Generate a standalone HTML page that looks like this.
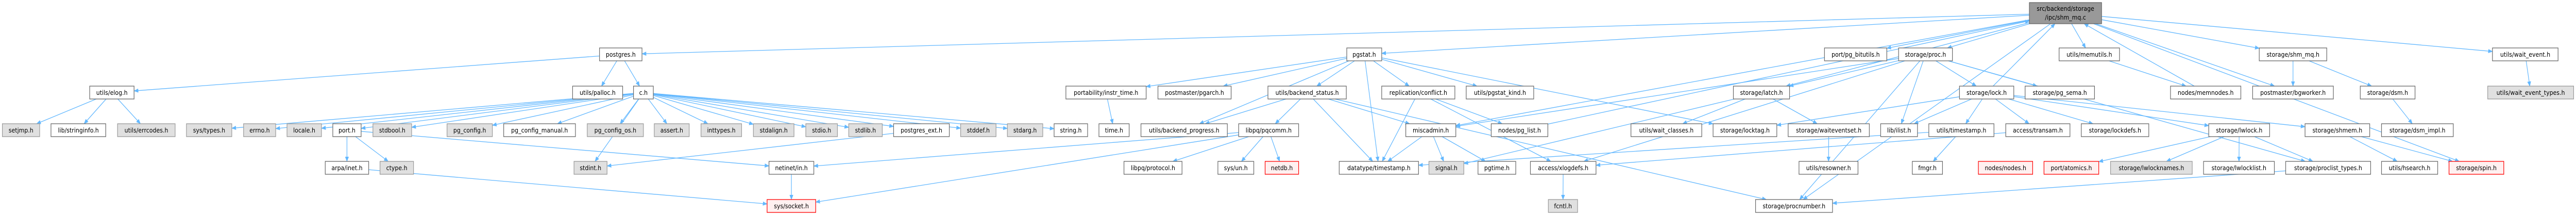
<!DOCTYPE html>
<html><head><meta charset="utf-8">
<style>
html,body{margin:0;padding:0;background:#fff;width:100%;height:100%;overflow:hidden;}
svg{display:block;width:100vw;height:100vh;}
text{font-family:"DejaVu Sans","Liberation Sans",sans-serif;font-size:12px;fill:#000;text-anchor:middle;}
.n rect{fill:#fff;stroke:#666;stroke-width:1.3;}
.g rect{fill:#e0e0e0;stroke:#999;}
.r rect{fill:#fff0f0;stroke:#f00;}
.root rect{fill:#999;stroke:#666;}
.e{fill:none;stroke:#63b8ff;stroke-width:1.3;}
</style></head><body>
<svg id="s" viewBox="0 0 5457 417" preserveAspectRatio="none" xmlns="http://www.w3.org/2000/svg">
<defs><marker id="a" markerWidth="10" markerHeight="8" refX="9" refY="4" orient="auto" markerUnits="userSpaceOnUse"><path d="M0,0 L10,4 L0,8 z" fill="#63b8ff"/></marker></defs>
<g id="edges"></g>
<g id="nodes">
<g id="root" class="n root"><rect x="4299" y="5" width="153" height="41"/><text x="4375.5" y="21">src/backend/storage</text><text x="4375.5" y="38">/ipc/shm_mq.c</text></g>

<g id="postgres" class="n"><rect x="1270" y="93" width="90" height="25"/><text x="1315" y="110">postgres.h</text></g>
<g id="pgstat" class="n"><rect x="2853" y="93" width="74" height="25"/><text x="2890" y="110">pgstat.h</text></g>
<g id="bitutils" class="n"><rect x="3865" y="93" width="132" height="25"/><text x="3931" y="110">port/pg_bitutils.h</text></g>
<g id="proc" class="n"><rect x="4022" y="93" width="114" height="25"/><text x="4079" y="110">storage/proc.h</text></g>
<g id="memutils" class="n"><rect x="4362" y="93" width="128" height="25"/><text x="4426" y="110">utils/memutils.h</text></g>
<g id="shmmqh" class="n"><rect x="4786" y="93" width="143" height="25"/><text x="4857.5" y="110">storage/shm_mq.h</text></g>
<g id="waitevent" class="n"><rect x="5280" y="93" width="139" height="25"/><text x="5349.5" y="110">utils/wait_event.h</text></g>

<g id="elog" class="n"><rect x="190" y="167" width="94" height="25"/><text x="237" y="184">utils/elog.h</text></g>
<g id="palloc" class="n"><rect x="1213" y="167" width="106" height="25"/><text x="1266" y="184">utils/palloc.h</text></g>
<g id="ch" class="n"><rect x="1342" y="167" width="42" height="25"/><text x="1363" y="184">c.h</text></g>
<g id="instr" class="n"><rect x="2258" y="167" width="170" height="25"/><text x="2343" y="184">portability/instr_time.h</text></g>
<g id="pgarch" class="n"><rect x="2453" y="167" width="155" height="25"/><text x="2530.5" y="184">postmaster/pgarch.h</text></g>
<g id="bstatus" class="n"><rect x="2686" y="167" width="166" height="25"/><text x="2769" y="184">utils/backend_status.h</text></g>
<g id="conflict" class="n"><rect x="2927" y="167" width="155" height="25"/><text x="3004.5" y="184">replication/conflict.h</text></g>
<g id="pgstatkind" class="n"><rect x="3106" y="167" width="143" height="25"/><text x="3177.5" y="184">utils/pgstat_kind.h</text></g>
<g id="latch" class="n"><rect x="3672" y="167" width="119" height="25"/><text x="3731.5" y="184">storage/latch.h</text></g>
<g id="lock" class="n"><rect x="4151" y="167" width="115" height="25"/><text x="4208.5" y="184">storage/lock.h</text></g>
<g id="pgsema" class="n"><rect x="4290" y="167" width="147" height="25"/><text x="4363.5" y="184">storage/pg_sema.h</text></g>
<g id="memnodes" class="n"><rect x="4598" y="167" width="149" height="25"/><text x="4672.5" y="184">nodes/memnodes.h</text></g>
<g id="bgworker" class="n"><rect x="4772" y="167" width="171" height="25"/><text x="4857.5" y="184">postmaster/bgworker.h</text></g>
<g id="dsm" class="n"><rect x="5000" y="167" width="116" height="25"/><text x="5058" y="184">storage/dsm.h</text></g>
<g id="wetypes" class="n g"><rect x="5270" y="167" width="182" height="25"/><text x="5361" y="184">utils/wait_event_types.h</text></g>

<g id="setjmp" class="n g"><rect x="5" y="240" width="79" height="25"/><text x="44.5" y="257">setjmp.h</text></g>
<g id="stringinfo" class="n"><rect x="108" y="240" width="116" height="25"/><text x="166" y="257">lib/stringinfo.h</text></g>
<g id="errcodes" class="n g"><rect x="249" y="240" width="122" height="25"/><text x="310" y="257">utils/errcodes.h</text></g>
<g id="systypes" class="n g"><rect x="395" y="240" width="96" height="25"/><text x="443" y="257">sys/types.h</text></g>
<g id="errno" class="n g"><rect x="516" y="240" width="68" height="25"/><text x="550" y="257">errno.h</text></g>
<g id="locale" class="n g"><rect x="608" y="240" width="73" height="25"/><text x="644.5" y="257">locale.h</text></g>
<g id="port" class="n"><rect x="705" y="240" width="60" height="25"/><text x="735" y="257">port.h</text></g>
<g id="stdbool" class="n g"><rect x="790" y="240" width="82" height="25"/><text x="831" y="257">stdbool.h</text></g>
<g id="pgconfig" class="n g"><rect x="947" y="240" width="96" height="25"/><text x="995" y="257">pg_config.h</text></g>
<g id="pgcm" class="n"><rect x="1067" y="240" width="152" height="25"/><text x="1143" y="257">pg_config_manual.h</text></g>
<g id="pgcos" class="n g"><rect x="1244" y="240" width="119" height="25"/><text x="1303.5" y="257">pg_config_os.h</text></g>
<g id="assert" class="n g"><rect x="1386" y="240" width="74" height="25"/><text x="1423" y="257">assert.h</text></g>
<g id="inttypes" class="n g"><rect x="1485" y="240" width="86" height="25"/><text x="1528" y="257">inttypes.h</text></g>
<g id="stdalign" class="n g"><rect x="1596" y="240" width="86" height="25"/><text x="1639" y="257">stdalign.h</text></g>
<g id="stdio" class="n g"><rect x="1707" y="240" width="67" height="25"/><text x="1740.5" y="257">stdio.h</text></g>
<g id="stdlib" class="n g"><rect x="1798" y="240" width="71" height="25"/><text x="1833.5" y="257">stdlib.h</text></g>
<g id="pgext" class="n"><rect x="1893" y="240" width="118" height="25"/><text x="1952" y="257">postgres_ext.h</text></g>
<g id="stddef" class="n g"><rect x="2035" y="240" width="75" height="25"/><text x="2072.5" y="257">stddef.h</text></g>
<g id="stdarg" class="n g"><rect x="2134" y="240" width="75" height="25"/><text x="2171.5" y="257">stdarg.h</text></g>
<g id="string" class="n"><rect x="2233" y="240" width="71" height="25"/><text x="2268.5" y="257">string.h</text></g>
<g id="time" class="n"><rect x="2328" y="240" width="64" height="25"/><text x="2360" y="257">time.h</text></g>
<g id="bprogress" class="n"><rect x="2417" y="240" width="183" height="25"/><text x="2508.5" y="257">utils/backend_progress.h</text></g>
<g id="pqcomm" class="n"><rect x="2624" y="240" width="127" height="25"/><text x="2687.5" y="257">libpq/pqcomm.h</text></g>
<g id="miscadmin" class="n"><rect x="2978" y="240" width="106" height="25"/><text x="3031" y="257">miscadmin.h</text></g>
<g id="pglist" class="n"><rect x="3159" y="240" width="120" height="25"/><text x="3219" y="257">nodes/pg_list.h</text></g>
<g id="waitclasses" class="n"><rect x="3455" y="240" width="150" height="25"/><text x="3530" y="257">utils/wait_classes.h</text></g>
<g id="locktag" class="n"><rect x="3629" y="240" width="135" height="25"/><text x="3696.5" y="257">storage/locktag.h</text></g>
<g id="wes" class="n"><rect x="3788" y="240" width="172" height="25"/><text x="3874" y="257">storage/waiteventset.h</text></g>
<g id="ilist" class="n"><rect x="3984" y="240" width="78" height="25"/><text x="4023" y="257">lib/ilist.h</text></g>
<g id="tstamp" class="n"><rect x="4086" y="240" width="138" height="25"/><text x="4155" y="257">utils/timestamp.h</text></g>
<g id="transam" class="n"><rect x="4249" y="240" width="136" height="25"/><text x="4317" y="257">access/transam.h</text></g>
<g id="lockdefs" class="n"><rect x="4409" y="240" width="143" height="25"/><text x="4480.5" y="257">storage/lockdefs.h</text></g>
<g id="lwlock" class="n"><rect x="4679" y="240" width="129" height="25"/><text x="4743.5" y="257">storage/lwlock.h</text></g>
<g id="shmem" class="n"><rect x="4883" y="240" width="137" height="25"/><text x="4951.5" y="257">storage/shmem.h</text></g>
<g id="dsmimpl" class="n"><rect x="5045" y="240" width="152" height="25"/><text x="5121" y="257">storage/dsm_impl.h</text></g>

<g id="arpa" class="n"><rect x="689" y="313" width="92" height="25"/><text x="735" y="330">arpa/inet.h</text></g>
<g id="ctype" class="n g"><rect x="805" y="313" width="71" height="25"/><text x="840.5" y="330">ctype.h</text></g>
<g id="stdint" class="n g"><rect x="1216" y="313" width="70" height="25"/><text x="1251" y="330">stdint.h</text></g>
<g id="netinet" class="n"><rect x="1629" y="313" width="95" height="25"/><text x="1676.5" y="330">netinet/in.h</text></g>
<g id="protocol" class="n"><rect x="2381" y="313" width="123" height="25"/><text x="2442.5" y="330">libpq/protocol.h</text></g>
<g id="sysun" class="n"><rect x="2580" y="313" width="76" height="25"/><text x="2618" y="330">sys/un.h</text></g>
<g id="netdb" class="n r"><rect x="2680" y="313" width="71" height="25"/><text x="2715.5" y="330">netdb.h</text></g>
<g id="dtts" class="n"><rect x="2837" y="313" width="168" height="25"/><text x="2921" y="330">datatype/timestamp.h</text></g>
<g id="signal" class="n g"><rect x="3027" y="313" width="74" height="25"/><text x="3064" y="330">signal.h</text></g>
<g id="pgtime" class="n"><rect x="3131" y="313" width="80" height="25"/><text x="3171" y="330">pgtime.h</text></g>
<g id="xlogdefs" class="n"><rect x="3242" y="313" width="139" height="25"/><text x="3311.5" y="330">access/xlogdefs.h</text></g>
<g id="resowner" class="n"><rect x="3811" y="313" width="125" height="25"/><text x="3873.5" y="330">utils/resowner.h</text></g>
<g id="fmgr" class="n"><rect x="4051" y="313" width="64" height="25"/><text x="4083" y="330">fmgr.h</text></g>
<g id="nodes" class="n r"><rect x="4191" y="313" width="115" height="25"/><text x="4248.5" y="330">nodes/nodes.h</text></g>
<g id="atomics" class="n r"><rect x="4330" y="313" width="116" height="25"/><text x="4388" y="330">port/atomics.h</text></g>
<g id="lwnames" class="n g"><rect x="4471" y="313" width="173" height="25"/><text x="4557.5" y="330">storage/lwlocknames.h</text></g>
<g id="lwlist" class="n"><rect x="4668" y="313" width="150" height="25"/><text x="4743" y="330">storage/lwlocklist.h</text></g>
<g id="proclist" class="n"><rect x="4842" y="313" width="180" height="25"/><text x="4932" y="330">storage/proclist_types.h</text></g>
<g id="hsearch" class="n"><rect x="5045" y="313" width="119" height="25"/><text x="5104.5" y="330">utils/hsearch.h</text></g>
<g id="spin" class="n r"><rect x="5188" y="313" width="116" height="25"/><text x="5246" y="330">storage/spin.h</text></g>

<g id="socket" class="n r"><rect x="1625" y="387" width="103" height="25"/><text x="1676.5" y="404">sys/socket.h</text></g>
<g id="fcntl" class="n g"><rect x="3280" y="387" width="62" height="25"/><text x="3311" y="404">fcntl.h</text></g>
<g id="procnumber" class="n"><rect x="3719" y="387" width="163" height="25"/><text x="3800.5" y="404">storage/procnumber.h</text></g>
</g>
</svg>
<script>
(function(){
var E="root:postgres,pgstat,bitutils,miscadmin,proc,memutils,shmmqh,bgworker,spin,waitevent,latch,procnumber;"+
"postgres:elog,palloc,ch;elog:setjmp,stringinfo,errcodes;"+
"ch:pgconfig,pgcm,pgcos,assert,inttypes,stdalign,stdio,stdlib,pgext,stddef,stdarg,string,systypes,errno,locale,port,stdbool,stdint;"+
"port:arpa,ctype,netinet;arpa:socket;netinet:socket;pgext:stdint;"+
"pqcomm:protocol,sysun,netdb,socket,netinet;"+
"pgstat:instr,pgarch,bprogress,bstatus,conflict,dtts,pgstatkind,locktag;"+
"instr:time;bstatus:bprogress,pqcomm,dtts,miscadmin,procnumber;"+
"conflict:dtts,xlogdefs,pglist;miscadmin:signal,pgtime,dtts;pglist:nodes;xlogdefs:fcntl;"+
"latch:waitclasses,wes,signal;wes:resowner;"+
"proc:latch,xlogdefs,procnumber,ilist,lock,pgsema,proclist,miscadmin;"+
"lock:ilist,tstamp,transam,lockdefs,lwlock,shmem,nodes,locktag;"+
"tstamp:fmgr,dtts;transam:xlogdefs;lwlock:lwnames,lwlist,proclist,atomics;proclist:procnumber;"+
"shmem:hsearch,spin;memutils:memnodes;memnodes:nodes;shmmqh:bgworker,dsm;dsm:dsmimpl;waitevent:wetypes";
function R(id){var r=document.querySelector('#'+id+' rect');var x=+r.getAttribute('x'),y=+r.getAttribute('y'),w=+r.getAttribute('width'),h=+r.getAttribute('height');return {x:x,y:y,w:w,h:h,cx:x+w/2,cy:y+h/2};}
function clip(r,dx,dy){var tx=dx?(r.w/2)/Math.abs(dx):1e9,ty=dy?(r.h/2)/Math.abs(dy):1e9;var t=Math.min(tx,ty);return [r.cx+dx*t,r.cy+dy*t];}
var g=document.getElementById('edges'),ns="http://www.w3.org/2000/svg";
E.split(';').forEach(function(p){var a=p.split(':');var s=R(a[0]);a[1].split(',').forEach(function(t){var d=R(t);
var dx=d.cx-s.cx,dy=d.cy-s.cy;var p1=clip(s,dx,dy),p2=clip(d,-dx,-dy);
var l=document.createElementNS(ns,'path');l.setAttribute('d','M'+p1[0].toFixed(1)+','+p1[1].toFixed(1)+'L'+p2[0].toFixed(1)+','+p2[1].toFixed(1));
l.setAttribute('class','e');l.setAttribute('marker-end','url(#a)');g.appendChild(l);});});
})();
</script>
</body></html>
